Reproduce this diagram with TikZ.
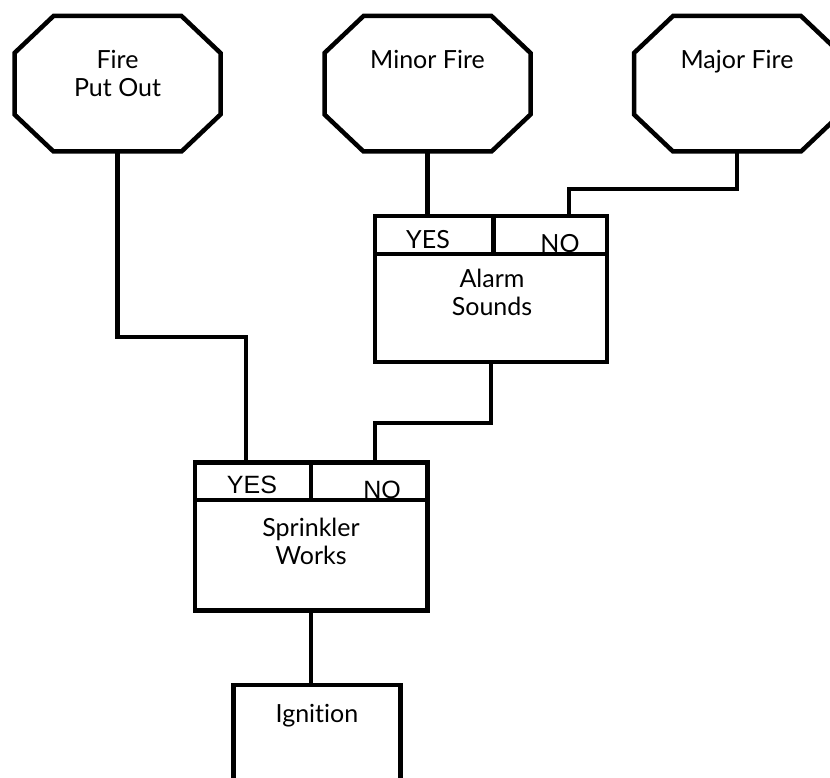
\documentclass[tikz,border=0pt]{standalone}
\usepackage{fontspec}
\setmainfont{Lato}[Ligatures={NoCommon,NoRare}]
\newfontfamily\arialfont{Liberation Sans}
\usetikzlibrary{calc}
\tikzset{
  wire/.style={line width=4.5pt, draw=black},
  octbox/.style={rectangle, minimum width=206pt, minimum height=135.5pt, inner sep=0pt, outer sep=0pt},
  choice/.style={rectangle, draw=black, line width=4.5pt, inner sep=0pt, outer sep=0pt},
  txt/.style={font=\fontsize{25}{28}\selectfont, align=center, inner sep=0pt, anchor=base},
  yesno/.style={font=\fontsize{25}{28}\selectfont, inner sep=0pt, anchor=base},
  yesnoarial/.style={font=\arialfont\fontsize{25}{28}\selectfont, inner sep=0pt, anchor=base},
}

\begin{document}
\begin{tikzpicture}[x=1pt, y=-1pt]
  \clip (0,0) rectangle (830,778);

  % Outcome octagons (top)
  \node[octbox] (putout) at (117.5, 83.75) {};
  \node[octbox] (minor) at (427.5, 83.75) {};
  \node[octbox] (major) at (737, 83.75) {};
  \foreach \n in {putout, minor, major} {
    \draw[wire] ($(\n.north west)+(39,0)$) -- ($(\n.north east)+(-39,0)$)
      -- ($(\n.north east)+(0,37)$) -- ($(\n.south east)+(0,-37)$)
      -- ($(\n.south east)+(-39,0)$) -- ($(\n.south west)+(39,0)$)
      -- ($(\n.south west)+(0,-37)$) -- ($(\n.north west)+(0,37)$) -- cycle;
  }
  % base = last line
  \node[txt] (putouttxt) at (117.5, 97) {Fire\\Put Out};
  \node[txt] (minortxt) at (427.5, 69) {Minor Fire};
  \node[txt] (majortxt) at (737, 69) {Major Fire};

  % Alarm sounds
  \node[choice, minimum width=232pt, minimum height=146pt] (alarm) at (491, 289) {};
  \coordinate (alarmsplit) at (493.5, 254);
  \draw[wire] (alarm.west |- alarmsplit) -- (alarm.east |- alarmsplit);
  \draw[wire] (alarmsplit) -- (alarmsplit |- alarm.north);
  \node[yesno] (alarmyes) at (428, 248) {YES};
  \node[yesno] (alarmno) at (560, 252) {NO};
  \node[txt] (alarmtxt) at (492, 315) {Alarm\\Sounds};

  % Sprinkler works
  \node[choice, minimum width=232.5pt, minimum height=148pt] (sprinkler) at (311, 536.5) {};
  \coordinate (sprinklersplit) at (311, 500);
  \draw[wire] (sprinkler.west |- sprinklersplit) -- (sprinkler.east |- sprinklersplit);
  \draw[wire] (sprinklersplit) -- (sprinklersplit |- sprinkler.north);
  \node[yesnoarial] (sprinkleryes) at (252, 493) {YES};
  \node[yesnoarial] (sprinklerno) at (382, 498) {NO};
  \node[txt] (sprinklertxt) at (311, 564) {Sprinkler\\Works};

  % Ignition
  \node[choice, minimum width=167pt, minimum height=200pt] (ignition) at (317, 785) {};
  \node[txt] (ignitiontxt) at (317, 722) {Ignition};

  % Connectors
  \coordinate (putoutbend) at (246, 337);
  \coordinate (majorbend) at (569, 189);
  \coordinate (alarmbend) at (375, 423);
  \draw[wire] (putout.south) |- (putoutbend) -- (putoutbend |- sprinkler.north);
  \draw[wire] (minor.south) -- (minor.south |- alarm.north);
  \draw[wire] (major.south) |- (majorbend) -- (majorbend |- alarm.north);
  \draw[wire] (alarm.south) |- (alarmbend) -- (alarmbend |- sprinkler.north);
  \draw[wire] (sprinkler.south) -- (sprinkler.south |- ignition.north);
\end{tikzpicture}
\end{document}
